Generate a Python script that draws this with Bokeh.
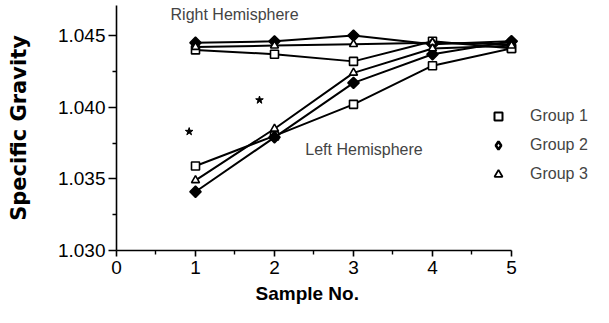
from bokeh.plotting import figure
from bokeh.models import (FixedTicker, PrintfTickFormatter, Label, Legend, LegendItem,
                          ColumnDataSource, Range1d, Title)
from bokeh.embed import file_html
from bokeh.resources import INLINE
import math

# ---- data ----
samples = [1, 2, 3, 4, 5]
right_g1 = [1.0440, 1.0437, 1.0432, 1.0446, 1.0441]
right_g2 = [1.0445, 1.0446, 1.0450, 1.0444, 1.0446]
right_g3 = [1.0442, 1.0443, 1.0444, 1.0445, 1.0444]
left_g1 = [1.0359, 1.0380, 1.0402, 1.0429, 1.0441]
left_g2 = [1.0341, 1.0379, 1.0417, 1.0437, 1.0446]
left_g3 = [1.0349, 1.0385, 1.0424, 1.0441, 1.0443]
star_x = [0.92, 1.81]
star_y = [1.0383, 1.0405]
x_ticks = [0, 1, 2, 3, 4, 5]
x_minor = [0.5, 1.5, 2.5, 3.5, 4.5]
y_ticks = [1.030, 1.035, 1.040, 1.045]
y_minor = [1.0325, 1.0375, 1.0425]
group_names = ["Group 1", "Group 2", "Group 3"]

FONT = "Liberation Sans"

p = figure(width=593, height=307, output_backend="svg", toolbar_location=None,
           x_range=Range1d(0, 6.038), y_range=Range1d(1.030, 1.0471),
           min_border_left=116, min_border_right=0, min_border_top=5, min_border_bottom=56)
p.outline_line_color = None
p.grid.visible = False
p.background_fill_color = "white"
p.border_fill_color = "white"

for ax in (p.xaxis[0], p.yaxis[0]):
    ax.axis_line_width = 1.6
    ax.axis_line_color = "black"
    ax.major_tick_line_width = 1.6
    ax.minor_tick_line_width = 1.4
    ax.major_tick_line_color = "black"
    ax.minor_tick_line_color = "black"
    ax.major_tick_in = 0
    ax.minor_tick_in = 0
    ax.major_label_text_font = FONT
    ax.major_label_text_font_size = "19px"
    ax.major_label_text_color = "black"

p.xaxis.bounds = (0, 5)
p.xaxis.ticker = FixedTicker(ticks=x_ticks, minor_ticks=x_minor)
p.xaxis.major_tick_out = 6
p.xaxis.minor_tick_out = 4
p.xaxis.major_label_standoff = 4

p.yaxis.bounds = (1.030, 1.0471)
p.yaxis.ticker = FixedTicker(ticks=y_ticks, minor_ticks=y_minor)
p.yaxis.formatter = PrintfTickFormatter(format="%.3f")
p.yaxis.major_tick_out = 8
p.yaxis.minor_tick_out = 4
p.yaxis.major_label_standoff = 3
p.yaxis.axis_label = "Specific Gravity"
p.yaxis.axis_label_text_font = "DejaVu Sans"
p.yaxis.axis_label_text_font_style = "bold"
p.yaxis.axis_label_text_font_size = "21px"
p.yaxis.axis_label_text_color = "black"
p.yaxis.axis_label_standoff = 24

# x-axis title, aligned under the 0..5 axis rather than the whole frame
p.add_layout(Title(text="Sample No.", align="left", offset=139, standoff=8,
                   text_font=FONT, text_font_style="bold", text_font_size="19px",
                   text_color="black"), "below")

LW = 2
series = [
    (right_g1, "square"), (right_g2, "diamond"), (right_g3, "triangle"),
    (left_g1, "square"), (left_g2, "diamond"), (left_g3, "triangle"),
]
for ys, _ in series:
    p.line(samples, ys, line_color="black", line_width=LW)
for ys, m in series:
    if m == "diamond":
        p.scatter(samples, ys, marker="square", angle=math.pi / 4, size=8,
                  fill_color="black", line_color="black", line_width=1.5)
    else:
        p.scatter(samples, ys, marker=m, size=8, fill_color="white",
                  line_color="black", line_width=1.6)

p.scatter(star_x, star_y, marker="star", size=8, fill_color="black", line_color="black")

# annotations
p.add_layout(Label(x=0.684, y=1.04646, text="Right Hemisphere", text_font=FONT,
                   text_font_size="16px", text_baseline="middle", text_align="left"))
p.add_layout(Label(x=2.39, y=1.03708, text="Left Hemisphere", text_font=FONT,
                   text_font_size="16px", text_baseline="middle", text_align="left"))

# legend with proxy renderers whose single point lies outside the visible range
proxy = ColumnDataSource(dict(x=[-100], y=[0]))
r1 = p.scatter("x", "y", source=proxy, marker="square", size=12, fill_color="white",
               line_color="black", line_width=2)
r2 = p.scatter("x", "y", source=proxy, marker="diamond", size=16, fill_color="white",
               line_color="black", line_width=2.6)
r3 = p.scatter("x", "y", source=proxy, marker="triangle", size=12, fill_color="white",
               line_color="black", line_width=1.8)
legend = Legend(items=[LegendItem(label=group_names[0], renderers=[r1]),
                       LegendItem(label=group_names[1], renderers=[r2]),
                       LegendItem(label=group_names[2], renderers=[r3])],
                location=(372, 64), border_line_color=None, background_fill_alpha=0,
                padding=0, margin=0, spacing=5, glyph_width=20, glyph_height=24,
                label_height=24, label_standoff=22, label_text_font=FONT,
                label_text_font_size="16px", label_text_baseline="middle")
p.add_layout(legend, "center")

open("out.html", "w").write(file_html(p, INLINE))
